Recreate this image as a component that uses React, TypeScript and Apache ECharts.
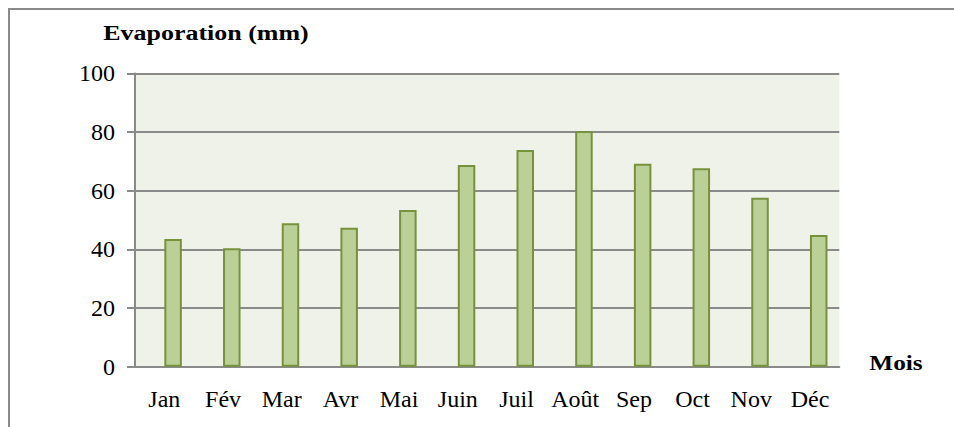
import React, { useEffect, useRef } from "react";
import * as echarts from "echarts";

const months = ["Jan", "Fév", "Mar", "Avr", "Mai", "Juin", "Juil", "Août", "Sep", "Oct", "Nov", "Déc"];
const evaporation = [43.5, 40.4, 48.9, 47.4, 53.4, 68.8, 73.9, 80.4, 69.2, 67.7, 57.6, 44.9];
const emptySeries = months.map(() => null);
const yTicks = { min: 0, max: 100, interval: 20 };
const yTitle = "Evaporation (mm)";
const xTitle = "Mois";

const FONT = "'Liberation Serif', 'Times New Roman', serif";
const GRAY = "#8a8a8a";

export default function App() {
  const ref = useRef<HTMLDivElement>(null);
  useEffect(() => {
    if (!ref.current) return;
    const chart = echarts.init(ref.current, undefined, { renderer: "svg" });
    chart.setOption({
      animation: false,
      backgroundColor: "#ffffff",
      grid: {
        left: 135,
        top: 73.4,
        right: 114.7,
        bottom: 60.3,
        show: true,
        backgroundColor: "#EFF2E9",
        borderWidth: 0,
      },
      xAxis: {
        type: "category",
        data: months,
        axisLine: { show: true, lineStyle: { color: GRAY, width: 2 } },
        axisTick: { show: false },
        axisLabel: { color: "#000", fontFamily: FONT, fontSize: 24, margin: 20, interval: 0 },
        splitLine: { show: false },
      },
      yAxis: {
        type: "value",
        min: yTicks.min,
        max: yTicks.max,
        interval: yTicks.interval,
        axisLine: { show: true, lineStyle: { color: GRAY, width: 2 } },
        axisTick: { show: true, length: 8, lineStyle: { color: GRAY, width: 2 } },
        axisLabel: { color: "#000", fontFamily: FONT, fontSize: 24, margin: 20 },
        splitLine: { show: true, lineStyle: { color: GRAY, width: 2 } },
      },
      series: [
        {
          type: "bar",
          data: emptySeries,
          barWidth: 17.5,
          barGap: "0%",
          silent: true,
        },
        {
          type: "bar",
          data: evaporation,
          barWidth: 17.5,
          barGap: "0%",
          itemStyle: { color: "#BBD097", borderColor: "#76923C", borderWidth: 2 },
        },
      ],
      graphic: [
        {
          type: "rect",
          shape: { x: 9, y: 9, width: 1000, height: 500 },
          style: { fill: "none", stroke: GRAY, lineWidth: 2 },
          silent: true,
        },
        {
          type: "text",
          x: 206,
          y: 33,
          scaleX: 1.18,
          style: {
            text: yTitle,
            fontFamily: FONT,
            fontSize: 22,
            fontWeight: "bold",
            fill: "#000",
            textAlign: "center",
            textVerticalAlign: "middle",
          },
        },
        {
          type: "text",
          x: 896,
          y: 363,
          scaleX: 1.15,
          style: {
            text: xTitle,
            fontFamily: FONT,
            fontSize: 22,
            fontWeight: "bold",
            fill: "#000",
            textAlign: "center",
            textVerticalAlign: "middle",
          },
        },
      ],
    });
    return () => chart.dispose();
  }, []);
  return (
    <div
      ref={ref}
      style={{ position: "fixed", left: 0, top: 0, width: 954, height: 427 }}
    />
  );
}
